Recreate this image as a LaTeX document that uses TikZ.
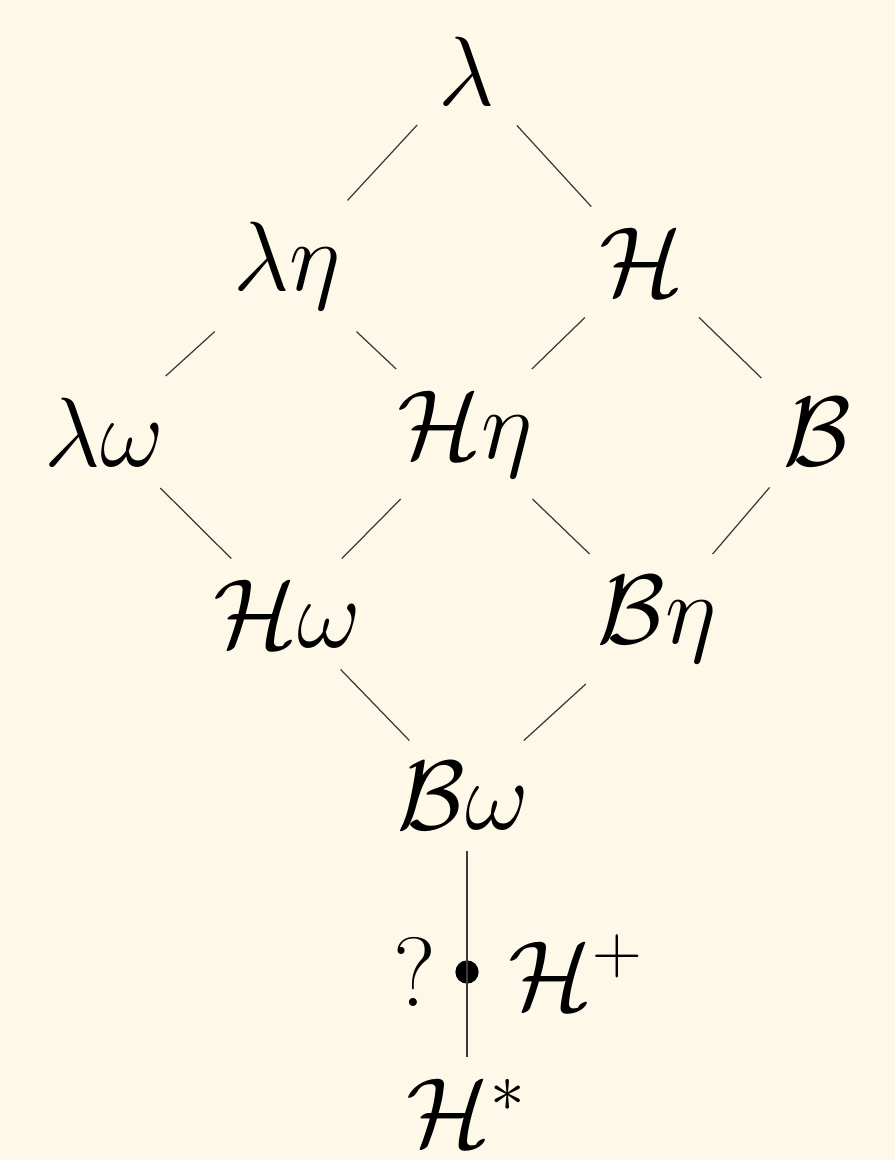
\RequirePackage{fix-cm}
\documentclass[tikz,border=0pt]{standalone}
\usepackage{tikz}
\usetikzlibrary{positioning}
\definecolor{Paper}{HTML}{FDF8E8}
\definecolor{Ink}{HTML}{3A3A3A}

\begin{document}
\begin{tikzpicture}[
    x=0.01cm,y=-0.01cm,
    lvl/.style={font=\fontsize{28}{33}\selectfont,inner sep=6pt},
    edge/.style={draw=Ink,line width=0.35pt},
    point/.style={circle,fill=black,inner sep=0pt,minimum size=6.6pt}
]
\useasboundingbox[fill=Paper] (0,0) rectangle (895,1160);
% the lattice
\node[lvl] (lam) at (467,71) {$\lambda$};
\node[lvl] (lameta) at (287,266) {$\lambda\eta$};
\node[lvl] (H) at (642,262) {$\mathcal{H}$};
\node[lvl] (lamom) at (104,432) {$\lambda\omega$};
\node[lvl] (Heta) at (465,434) {$\mathcal{H}\eta$};
\node[lvl] (B) at (817,432) {$\mathcal{B}$};
\node[lvl] (Hom) at (287,614) {$\mathcal{H}\omega$};
\node[lvl] (Beta) at (657,619) {$\mathcal{B}\eta$};
\node[lvl] (Bom) at (463,796) {$\mathcal{B}\omega$};
\node[point] (Hplus) at (467,972) {};
\node[lvl,left=-0.8pt of Hplus] (qmark) {?};
\node[lvl,right=2pt of Hplus] (Hpluslab) {$\mathcal{H}^+$};
\node[lvl] (Hstar) at (467,1113) {$\mathcal{H}^*$};
\draw[edge] (lam)--(lameta);
\draw[edge] (lam)--(H);
\draw[edge] (lameta)--(lamom);
\draw[edge] (lameta)--(Heta);
\draw[edge] (H)--(Heta);
\draw[edge] (H)--(B);
\draw[edge] (lamom)--(Hom);
\draw[edge] (Heta)--(Hom);
\draw[edge] (Heta)--(Beta);
\draw[edge] (B)--(Beta);
\draw[edge] (Hom)--(Bom);
\draw[edge] (Beta)--(Bom);
\draw[edge] (Hplus.center |- Bom.south)--(Hplus.center);
\draw[edge] (Hplus.center)--(Hstar);
\end{tikzpicture}
\end{document}
